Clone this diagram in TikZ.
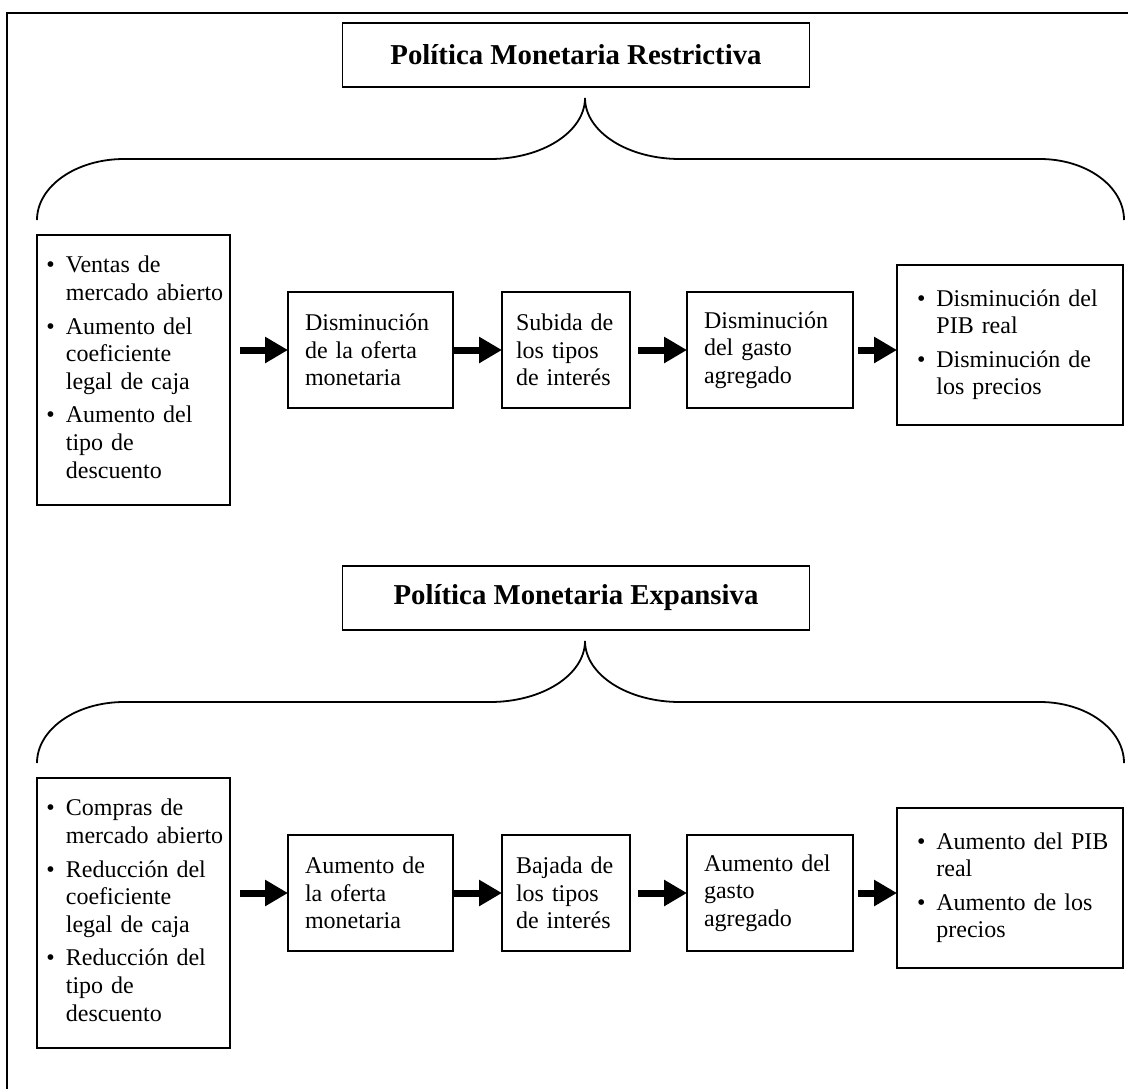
\documentclass[tikz,border=0pt]{standalone}
\usepackage{fontspec}
\setmainfont{Liberation Serif}
\usetikzlibrary{positioning, arrows.meta}

\begin{document}
\begin{tikzpicture}[
        x=0.5pt, y=-0.5pt,
        every node/.style={font=\fontsize{12pt}{13.8pt}\selectfont, outer sep=0pt},
        titlebox/.style={rectangle, draw, line width=0.9pt, minimum width=233.5pt, minimum height=32pt, font=\fontsize{14.4pt}{17pt}\selectfont\bfseries},
        listbox/.style={rectangle, draw, line width=0.9pt, anchor=north west, text width=87pt, inner xsep=4.75pt, minimum height=135pt, align=left},
        stepbox/.style={rectangle, draw, line width=0.9pt, minimum height=58pt, inner xsep=8.5pt, align=left},
        outbox/.style={rectangle, draw, line width=0.9pt, text width=93pt, inner xsep=10pt, minimum height=80pt, align=left},
        fatarrow/.style={line width=3.5pt, -{Triangle[length=11.5pt, width=12.5pt]}},
        brace/.style={line width=0.9pt}
    ]
        \useasboundingbox (0,0) rectangle (1128,1088);
        \clip (0,0) rectangle (1128,1088);

        % Frame
        \draw[line width=1pt] (7,1100) -- (7,13) -- (1140,13);

        % Restrictive policy
        \node[titlebox] (title1) at (576,55) {Política Monetaria Restrictiva};
        \draw[brace] (37,220) arc[start angle=180, end angle=270, x radius=87, y radius=61]
            -- (490,159) arc[start angle=90, end angle=0, x radius=95, y radius=61]
            arc[start angle=180, end angle=90, x radius=95, y radius=61]
            -- (1040,159) arc[start angle=270, end angle=360, x radius=84, y radius=61];

        \node[listbox] (in1) at (37,235) {\begin{tabular}{@{}l@{\hspace{5.5pt}}l@{}}
            \textbullet & Ventas de\\ & mercado abierto\\[3pt]
            \textbullet & Aumento del\\ & coeficiente\\ & legal de caja\\[3pt]
            \textbullet & Aumento del\\ & tipo de\\ & descuento
        \end{tabular}};
        \node[stepbox, text width=65.5pt] (dec1) at (370.5,350) {Disminución\\de la oferta\\monetaria};
        \node[stepbox, text width=50pt, inner xsep=7pt, right=24.5pt of dec1] (int1) {Subida de\\los tipos\\de interés};
        \node[stepbox, text width=66pt, right=28.5pt of int1] (act1) {Disminución\\del gasto\\agregado};
        \node[outbox, right=22pt of act1, yshift=2.5pt] (out1) {\begin{tabular}{@{}l@{\hspace{5.5pt}}l@{}}
            \textbullet & Disminución del\\ & PIB real\\[3pt]
            \textbullet & Disminución de\\ & los precios
        \end{tabular}};

        \draw[fatarrow] ([xshift=5pt]in1.east |- dec1.west) -- (dec1.west);
        \draw[fatarrow] (dec1.east) -- (int1.west);
        \draw[fatarrow] ([xshift=4pt]int1.east) -- (act1.west);
        \draw[fatarrow] ([xshift=2.5pt]act1.east) -- (out1.west |- act1.east);

        % Expansive policy
        \node[titlebox] (title2) at (576,598) {Política Monetaria Expansiva};
        \draw[brace] (37,763) arc[start angle=180, end angle=270, x radius=87, y radius=61]
            -- (490,702) arc[start angle=90, end angle=0, x radius=95, y radius=61]
            arc[start angle=180, end angle=90, x radius=95, y radius=61]
            -- (1040,702) arc[start angle=270, end angle=360, x radius=84, y radius=61];

        \node[listbox] (in2) at (37,778) {\begin{tabular}{@{}l@{\hspace{5.5pt}}l@{}}
            \textbullet & Compras de\\ & mercado abierto\\[3pt]
            \textbullet & Reducción del\\ & coeficiente\\ & legal de caja\\[3pt]
            \textbullet & Reducción del\\ & tipo de\\ & descuento
        \end{tabular}};
        \node[stepbox, text width=65.5pt] (dec2) at (370.5,893) {Aumento de\\la oferta\\monetaria};
        \node[stepbox, text width=50pt, inner xsep=7pt, right=24.5pt of dec2] (int2) {Bajada de\\los tipos\\de interés};
        \node[stepbox, text width=66pt, right=28.5pt of int2] (act2) {Aumento del\\gasto\\agregado};
        \node[outbox, right=22pt of act2, yshift=2.5pt] (out2) {\begin{tabular}{@{}l@{\hspace{5.5pt}}l@{}}
            \textbullet & Aumento del PIB\\ & real\\[3pt]
            \textbullet & Aumento de los\\ & precios
        \end{tabular}};

        \draw[fatarrow] ([xshift=5pt]in2.east |- dec2.west) -- (dec2.west);
        \draw[fatarrow] (dec2.east) -- (int2.west);
        \draw[fatarrow] ([xshift=4pt]int2.east) -- (act2.west);
        \draw[fatarrow] ([xshift=2.5pt]act2.east) -- (out2.west |- act2.east);

    \end{tikzpicture}
\end{document}
